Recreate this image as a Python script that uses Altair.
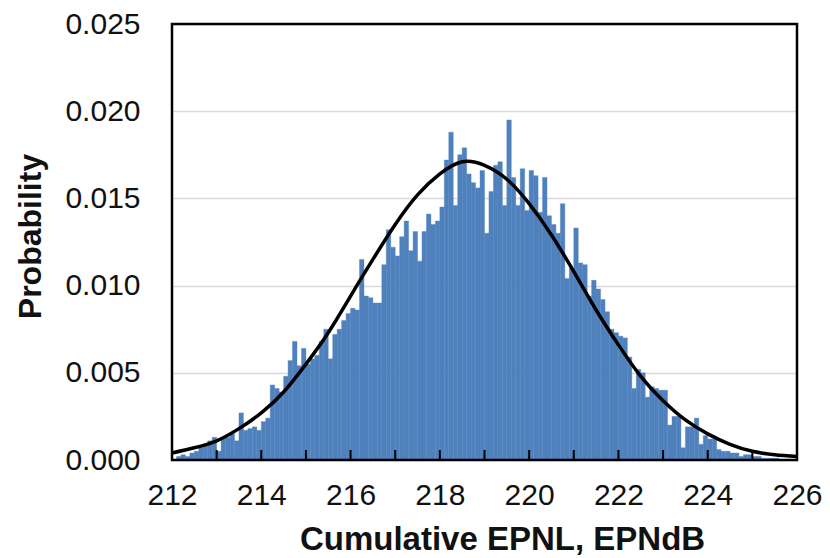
import altair as alt
import pandas as pd

# Histogram bins (left edge, EPNdB) and probabilities
BIN_START = [
    212.0, 212.1, 212.2, 212.3, 212.4, 212.5, 212.6, 212.7, 212.8, 212.9,
    213.0, 213.1, 213.2, 213.3, 213.4, 213.5, 213.6, 213.7, 213.8, 213.9,
    214.0, 214.1, 214.2, 214.3, 214.4, 214.5, 214.6, 214.7, 214.8, 214.9,
    215.0, 215.1, 215.2, 215.3, 215.4, 215.5, 215.6, 215.7, 215.8, 215.9,
    216.0, 216.1, 216.2, 216.3, 216.4, 216.5, 216.6, 216.7, 216.8, 216.9,
    217.0, 217.1, 217.2, 217.3, 217.4, 217.5, 217.6, 217.7, 217.8, 217.9,
    218.0, 218.1, 218.2, 218.3, 218.4, 218.5, 218.6, 218.7, 218.8, 218.9,
    219.0, 219.1, 219.2, 219.3, 219.4, 219.5, 219.6, 219.7, 219.8, 219.9,
    220.0, 220.1, 220.2, 220.3, 220.4, 220.5, 220.6, 220.7, 220.8, 220.9,
    221.0, 221.1, 221.2, 221.3, 221.4, 221.5, 221.6, 221.7, 221.8, 221.9,
    222.0, 222.1, 222.2, 222.3, 222.4, 222.5, 222.6, 222.7, 222.8, 222.9,
    223.0, 223.1, 223.2, 223.3, 223.4, 223.5, 223.6, 223.7, 223.8, 223.9,
    224.0, 224.1, 224.2, 224.3, 224.4, 224.5, 224.6, 224.7, 224.8, 224.9,
    225.0, 225.1, 225.2, 225.3, 225.4, 225.5,
]
PROB = [
    0.0000, 0.0002, 0.0003, 0.0002, 0.0004, 0.0005, 0.0007, 0.0009, 0.0011, 0.0013,
    0.0005, 0.0013, 0.0013, 0.0015, 0.0011, 0.0027, 0.0017, 0.0018, 0.0019, 0.0017,
    0.0022, 0.0024, 0.0043, 0.0041, 0.0039, 0.0048, 0.0057, 0.0068, 0.0054, 0.0064,
    0.0055, 0.0058, 0.0060, 0.0068, 0.0075, 0.0058, 0.0072, 0.0075, 0.0080, 0.0084,
    0.0087, 0.0086, 0.0115, 0.0094, 0.0093, 0.0090, 0.0090, 0.0112, 0.0132, 0.0122,
    0.0117, 0.0128, 0.0137, 0.0120, 0.0131, 0.0114, 0.0131, 0.0141, 0.0135, 0.0137,
    0.0145, 0.0172, 0.0188, 0.0146, 0.0175, 0.0179, 0.0164, 0.0159, 0.0156, 0.0166,
    0.0130, 0.0154, 0.0169, 0.0171, 0.0146, 0.0195, 0.0162, 0.0146, 0.0167, 0.0143,
    0.0166, 0.0163, 0.0142, 0.0162, 0.0140, 0.0135, 0.0130, 0.0147, 0.0104, 0.0110,
    0.0133, 0.0113, 0.0112, 0.0094, 0.0103, 0.0098, 0.0092, 0.0085, 0.0075, 0.0073,
    0.0071, 0.0070, 0.0059, 0.0041, 0.0052, 0.0050, 0.0036, 0.0042, 0.0041, 0.0040,
    0.0040, 0.0020, 0.0025, 0.0025, 0.0007, 0.0019, 0.0019, 0.0024, 0.0009, 0.0014,
    0.0012, 0.0012, 0.0006, 0.0005, 0.0005, 0.0004, 0.0004, 0.0002, 0.0003, 0.0003,
    0.0002, 0.0002, 0.0001, 0.0001, 0.0001, 0.0001,
]
BIN_WIDTH = 0.1

# Fitted curve
CURVE_X = [212.0, 212.5, 213.0, 213.5, 214.0, 214.5, 215.0, 215.5, 216.0, 216.5,
           217.0, 217.5, 218.0, 218.5, 219.0, 219.5, 220.0, 220.5, 221.0, 221.5,
           222.0, 222.5, 223.0, 223.5, 224.0, 224.5, 225.0, 225.5, 226.0]
CURVE_Y = [0.0004, 0.0007, 0.0011, 0.0018, 0.0027, 0.0039, 0.0055, 0.0073, 0.0094, 0.0115,
           0.0135, 0.0152, 0.0164, 0.0171, 0.0169, 0.0161, 0.0147, 0.0129, 0.0108, 0.0086,
           0.0066, 0.0048, 0.0034, 0.0023, 0.0015, 0.0009, 0.0005, 0.0003, 0.0002]

X_TICKS = [212, 214, 216, 218, 220, 222, 224, 226]
X_MINOR = [213, 214, 215, 216, 217, 218, 219, 220, 221, 222, 223, 224, 225]
Y_TICKS = [0.0, 0.005, 0.010, 0.015, 0.020, 0.025]

FONT = "Liberation Sans, Arial, sans-serif"
W, H = 625, 436

hist = pd.DataFrame({"x": BIN_START, "p": PROB})
hist["x2"] = hist["x"] + BIN_WIDTH
curve = pd.DataFrame({"x": CURVE_X, "y": CURVE_Y})
minor = pd.DataFrame({"t": X_MINOR})

xscale = alt.Scale(domain=[212, 226], nice=False, zero=False)
yscale = alt.Scale(domain=[0, 0.025], nice=False)

xaxis = alt.Axis(
    values=X_TICKS, format="d", grid=False, domain=False, ticks=False,
    labelFlush=False, labelOverlap=False,
    labelFont=FONT, labelFontSize=30, labelColor="#111111",
    labelPadding=44, labelBaseline="alphabetic",
    title="Cumulative EPNL, EPNdB", titleFont=FONT, titleFontSize=33,
    titleFontWeight="bold", titleColor="#111111",
    titleBaseline="alphabetic", titleX=330, titleY=89,
)
yaxis = alt.Axis(
    values=Y_TICKS, format=".3f", grid=True, gridColor="#d9d9d9", gridWidth=1.5,
    domain=False, ticks=False, labelFlush=False, labelOverlap=False,
    labelFont=FONT, labelFontSize=30, labelColor="#111111", labelPadding=32,
    title="Probability", titleFont=FONT, titleFontSize=32,
    titleFontWeight="bold", titleColor="#111111",
    titleBaseline="middle", titleX=-142, titleY=212,
)

bars = alt.Chart(hist).mark_rect(color="#4f81bd", stroke="#4f81bd", strokeWidth=0.4).encode(
    x=alt.X("x:Q", scale=xscale, axis=xaxis),
    x2="x2:Q",
    y=alt.Y("p:Q", scale=yscale, axis=yaxis),
    y2=alt.datum(0),
)

line = alt.Chart(curve).mark_line(color="black", strokeWidth=3.5, interpolate="natural").encode(
    x=alt.X("x:Q", scale=xscale),
    y=alt.Y("y:Q", scale=yscale),
)

ticks = alt.Chart(minor).mark_rule(color="black", strokeWidth=2).encode(
    x=alt.X("t:Q", scale=xscale),
    y=alt.value(H),
    y2=alt.value(H - 10),
)

frame = alt.Chart(pd.DataFrame({"f": [0]})).mark_rect(
    fill=None, filled=False, stroke="black", strokeWidth=2.5
).encode(
    x=alt.value(0), x2=alt.value(W), y=alt.value(0), y2=alt.value(H),
)

chart = alt.layer(bars, ticks, line, frame).properties(
    width=W, height=H,
    autosize=alt.AutoSizeParams(type="none"),
    padding={"left": 164, "top": 16, "right": 25, "bottom": 96},
).configure_view(
    stroke=None
).configure(background="white")

chart.save("out.html", embed_options={"renderer": "svg", "actions": False})
